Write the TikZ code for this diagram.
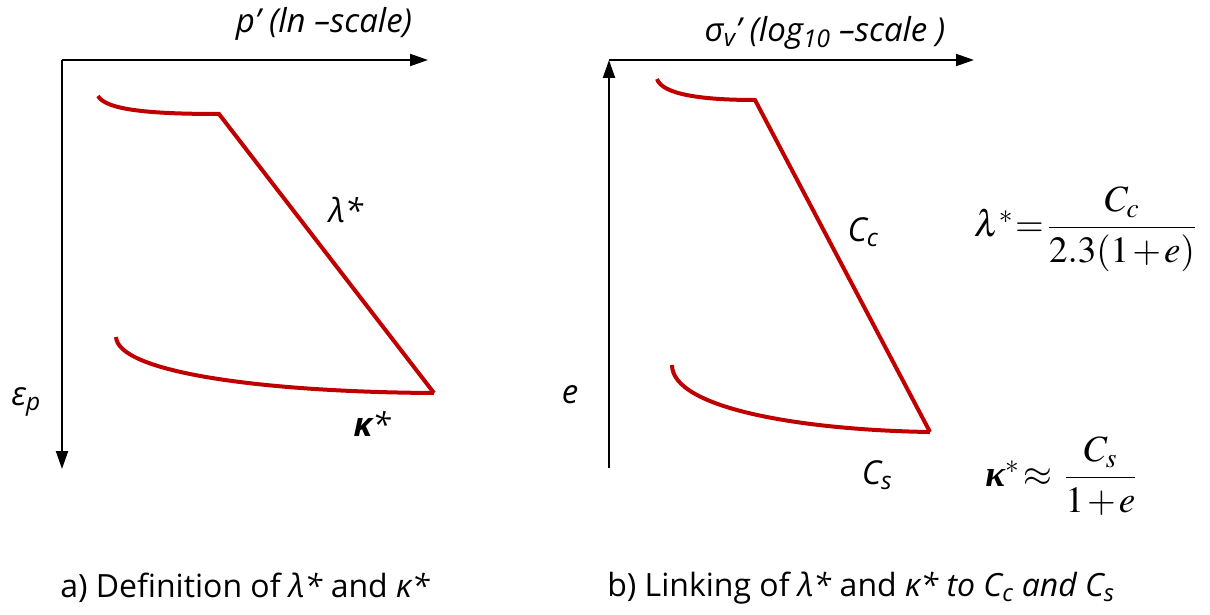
\documentclass[tikz,border=0pt]{standalone}
\usepackage{amsmath}
\usepackage{mathptmx}
\usepackage[no-math]{fontspec}
\setmainfont{Open Sans}
\newfontfamily\tmsfont{Liberation Serif}
\usetikzlibrary{arrows.meta}
\definecolor{curvered}{RGB}{192,0,0}

\begin{document}
\begin{tikzpicture}[x=1pt,y=-1pt,
		axis/.style={line width=2pt, -{Triangle[length=18pt,width=12pt]}},
		curve/.style={curvered, line width=4pt},
		lbl/.style={font=\fontsize{33}{38}\selectfont\itshape, inner sep=0pt},
		caption/.style={font=\fontsize{32}{36}\selectfont, inner sep=0pt},
		formula/.style={font=\fontsize{37}{42}\selectfont, inner sep=0pt}
	]
		\useasboundingbox (0,0) rectangle (1210,615);

		% a) Definition
		\coordinate (oa) at (62,60);
		\coordinate (xa) at (428,60);
		\coordinate (ya) at (62,469);
		\draw[axis] (oa) -- (xa);
		\draw[axis] (oa) -- (ya);
		\coordinate (ua) at (98,96);
		\coordinate (ka) at (219,114);
		\coordinate (ta) at (434,393);
		\coordinate (la) at (116,337);
		\draw[curve] (ua) .. controls (106,110) and (150,114) .. (ka) -- (ta);
		\draw[curve] (la) .. controls (118,372) and (260,392) .. (ta);
		\node[lbl] (pa) at (324,24) {p’ (ln –scale)};
		\node[lbl] (epsa) at (26,402) {ε\textsubscript{p}};
		\node[lbl] (lama) at (346,210) {λ*};
		\node[lbl] (kapa) at (372,424) {\textbf{κ}*};
		\node[caption] (capa) at (245,588) {a) Definition of \textit{λ*} and \textit{κ*}};

		% b) Linking
		\coordinate (ob) at (609,60);
		\coordinate (xb) at (974,60);
		\coordinate (yb) at (609,468);
		\draw[axis] (ob) -- (xb);
		\draw[axis] (yb) -- (ob);
		\coordinate (ub) at (657,79);
		\coordinate (kb) at (755,100);
		\coordinate (tb) at (930,432);
		\coordinate (lb) at (672,365);
		\draw[curve] (ub) .. controls (662,94) and (700,100) .. (kb) -- (tb);
		\draw[curve] (lb) .. controls (672,408) and (800,430) .. (tb);
		\node[lbl] (sigb) at (825,33) {σ\textsubscript{v}’ (log\textsubscript{10} –scale )};
		\node[lbl] (eb) at (570,395) {e};
		\node[lbl] (ccb) at (863,232) {C\textsubscript{c}};
		\node[lbl] (csb) at (877,475) {C\textsubscript{s}};
		\node[formula] (fla) at (1085,229) {$\lambda^{*}\mkern-3mu=\mkern-2mu\dfrac{C_c}{2.3(1\mkern-1mu+\mkern-1mu e)}$};
		\node[formula] (flk) at (1061,476) {$\text{\tmsfont\bfseries\itshape κ}^{*}\mkern-2mu\approx\,\dfrac{C_s}{1\mkern-1mu+\mkern-1mu e}$};
		\node[caption] (capb) at (861,588) {b) Linking of \textit{λ*} and \textit{κ* to C\textsubscript{c} and C\textsubscript{s}}};
	\end{tikzpicture}
\end{document}
